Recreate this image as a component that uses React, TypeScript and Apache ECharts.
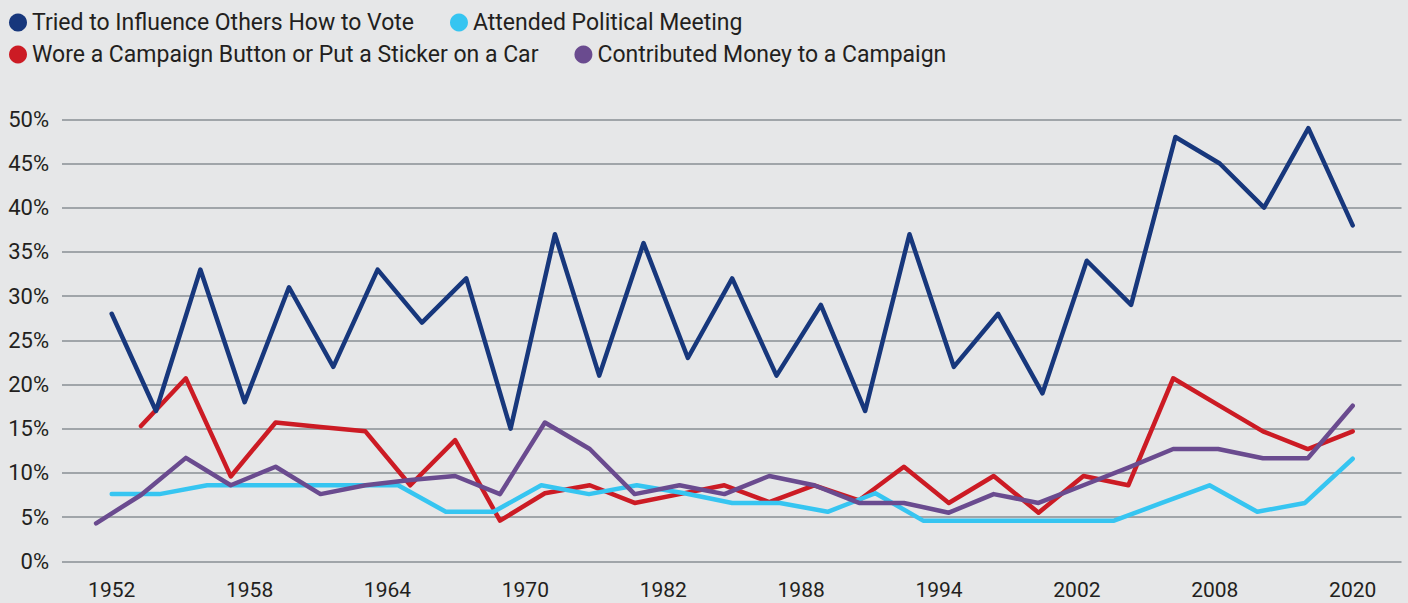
import React, { useEffect, useRef } from "react";
import * as echarts from "echarts";

// ---- data ----
const seriesNames = [
  "Tried to Influence Others How to Vote",
  "Attended Political Meeting",
  "Wore a Campaign Button or Put a Sticker on a Car",
  "Contributed Money to a Campaign",
];

const xTickLabels = ["1952", "1958", "1964", "1970", "1982", "1988", "1994", "2002", "2008", "2020"];
const yTicks = [0, 5, 10, 15, 20, 25, 30, 35, 40, 45, 50];

// Tried to influence others (29 survey points)
const influenceValues = [
  28, 17, 33, 18, 31, 22, 33, 27, 32, 15, 37, 21, 36, 23, 32, 21, 29, 17, 37, 22, 28, 19, 34, 29, 48, 45, 40, 49, 38,
];

// Attended political meeting (27 survey points)
const meetingValues = [
  7.6, 7.6, 8.6, 8.6, 8.6, 8.6, 8.6, 5.6, 5.6, 8.6, 7.6, 8.6, 7.7, 6.6, 6.6, 5.6, 7.7, 4.6, 4.6, 4.6, 4.6, 4.6, 6.6,
  8.6, 5.6, 6.6, 11.6,
];

// Wore button / sticker (29 slots, first missing)
const buttonValues: (number | null)[] = [
  null, 15.3, 20.7, 9.6, 15.7, 15.2, 14.7, 8.6, 13.7, 4.6, 7.7, 8.6, 6.6, 7.6, 8.6, 6.7, 8.6, 6.9, 10.7, 6.6, 9.65,
  5.5, 9.65, 8.6, 20.7, 17.7, 14.7, 12.7, 14.7,
];

// Contributed money (29 slots)
const moneyValues = [
  4.3, 7.5, 11.7, 8.6, 10.7, 7.6, 8.6, 9.2, 9.65, 7.6, 15.7, 12.7, 7.6, 8.6, 7.6, 9.65, 8.6, 6.6, 6.6, 5.5, 7.6, 6.6,
  8.6, 10.6, 12.7, 12.7, 11.65, 11.65, 17.6,
];

const colors = ["#17377c", "#36c5f1", "#cc1b24", "#6a4b8f"];

const idx = (arr: unknown[]) => arr.map((_, i) => String(i));

export default function App() {
  const ref = useRef<HTMLDivElement>(null);

  useEffect(() => {
    if (!ref.current) return;
    const chart = echarts.init(ref.current, undefined, { renderer: "svg" });
    const top = 119.3;
    const bottom = 603 - 561.3;
    const font = "Roboto, 'Noto Sans', sans-serif";
    const textColor = "#231f20";

    const hiddenY = (gridIndex: number) => ({
      type: "value",
      gridIndex,
      min: 0,
      max: 50,
      interval: 5,
      show: false,
    });

    const legendCommon = {
      left: 9,
      icon: "circle",
      itemWidth: 18,
      itemHeight: 18,
      itemGap: 36,
      itemTextGap: 6,
      padding: 0,
      textStyle: { fontSize: 23, color: textColor, fontFamily: font },
    };

    chart.setOption({
      animation: false,
      backgroundColor: "#e6e7e8",
      color: colors,
      legend: [
        { ...legendCommon, top: 11, data: [seriesNames[0], seriesNames[1]] },
        { ...legendCommon, top: 43, data: [seriesNames[2], seriesNames[3]] },
      ],
      grid: [
        { left: 62, right: 6.5, top, bottom },
        { left: 111.7, right: 55.3, top, bottom },
        { left: 96.1, right: 55.3, top, bottom },
      ],
      xAxis: [
        { type: "value", gridIndex: 0, show: false, min: 0, max: 1 },
        {
          type: "category",
          gridIndex: 1,
          position: "bottom",
          data: xTickLabels,
          boundaryGap: false,
          axisLine: { show: false },
          axisTick: { show: false },
          splitLine: { show: false },
          axisLabel: {
            interval: 0,
            margin: 18,
            fontSize: 21,
            color: textColor,
            fontFamily: font,
          },
        },
        { type: "category", gridIndex: 1, position: "top", data: idx(influenceValues), boundaryGap: false, show: false },
        { type: "category", gridIndex: 1, position: "top", data: idx(meetingValues), boundaryGap: false, show: false },
        { type: "category", gridIndex: 2, position: "top", data: idx(buttonValues), boundaryGap: false, show: false },
      ],
      yAxis: [
        {
          type: "value",
          gridIndex: 0,
          min: 0,
          max: 50,
          interval: 5,
          axisLine: { show: false },
          axisTick: { show: false },
          axisLabel: {
            margin: 13,
            fontSize: 22,
            color: textColor,
            fontFamily: font,
            formatter: (v: number) => (yTicks.includes(v) ? `${v}%` : ""),
          },
          splitLine: { show: true, lineStyle: { color: "#888f95", width: 1.6 } },
        },
        hiddenY(1),
        hiddenY(2),
      ],
      series: [
        {
          name: seriesNames[2],
          type: "line",
          xAxisIndex: 4,
          yAxisIndex: 2,
          data: buttonValues,
          showSymbol: false,
          symbol: "none",
          color: colors[2],
          lineStyle: { width: 4.5, color: colors[2], cap: "round", join: "round" },
        },
        {
          name: seriesNames[1],
          type: "line",
          xAxisIndex: 3,
          yAxisIndex: 1,
          data: meetingValues,
          showSymbol: false,
          symbol: "none",
          color: colors[1],
          lineStyle: { width: 4.5, color: colors[1], cap: "round", join: "round" },
        },
        {
          name: seriesNames[3],
          type: "line",
          xAxisIndex: 4,
          yAxisIndex: 2,
          data: moneyValues,
          showSymbol: false,
          symbol: "none",
          color: colors[3],
          lineStyle: { width: 4.5, color: colors[3], cap: "round", join: "round" },
        },
        {
          name: seriesNames[0],
          type: "line",
          xAxisIndex: 2,
          yAxisIndex: 1,
          data: influenceValues,
          showSymbol: false,
          symbol: "none",
          color: colors[0],
          lineStyle: { width: 4.5, color: colors[0], cap: "round", join: "round" },
        },
      ],
    });

    return () => chart.dispose();
  }, []);

  return (
    <div
      ref={ref}
      style={{ position: "fixed", left: 0, top: 0, width: 1408, height: 603 }}
    />
  );
}
